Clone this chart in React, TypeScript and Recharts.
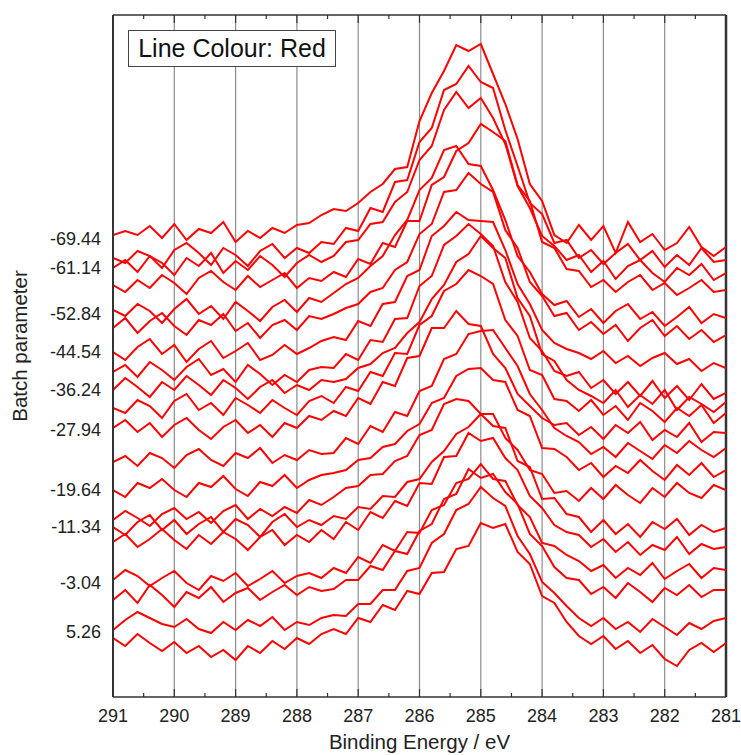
import React from 'react';
import { LineChart, Line, XAxis, YAxis, ReferenceLine } from 'recharts';

// binding energy grid (eV), high to low
const energies = [
  291.0, 290.8, 290.6, 290.4, 290.2, 290.0, 289.8, 289.6, 289.4, 289.2,
  289.0, 288.8, 288.6, 288.4, 288.2, 288.0, 287.8, 287.6, 287.4, 287.2,
  287.0, 286.8, 286.6, 286.4, 286.2, 286.0, 285.8, 285.6, 285.4, 285.2,
  285.0, 284.8, 284.6, 284.4, 284.2, 284.0, 283.8, 283.6, 283.4, 283.2,
  283.0, 282.8, 282.6, 282.4, 282.2, 282.0, 281.8, 281.6, 281.4, 281.2,
  281.0,
];

// spectra, each relative to its own waterfall offset
const s01 = [4, 8, 4, 13, 1, 15, -1, 10, 6, 17, -3, 8, 1, 11, 6, 14, 16, 24, 30, 28, 36, 47, 55, 70, 72, 118, 146, 168, 194, 188, 195, 165, 135, 100, 55, 38, 4, -4, 14, -1, 13, -14, 17, -3, 5, -11, -4, 12, -8, -17, -8];
const s02 = [0, -5, 7, 2, -10, 8, 15, 5, -7, 10, 3, -8, 7, 14, 0, 10, 5, 16, 14, 30, 27, 50, 46, 76, 78, 116, 130, 168, 174, 192, 176, 170, 128, 92, 55, 44, 15, 18, 0, 8, -6, 5, 14, -2, 7, -9, 3, -7, 10, -4, -2];
const s03 = [0, 8, -4, 12, 5, -7, 10, 2, 15, -5, 7, -2, 12, 3, -9, 5, 13, 6, 12, 26, 28, 44, 46, 66, 76, 108, 122, 158, 176, 160, 170, 150, 124, 82, 60, 32, 22, 8, 13, -4, 7, -11, 2, 8, -5, -14, 0, -7, 4, -12, -5];
const s04 = [0, -7, 5, -3, 10, 2, -9, 7, 14, 3, -5, 9, -2, 5, 12, -3, 7, 4, 13, 8, 26, 21, 42, 38, 64, 64, 100, 108, 134, 142, 161, 153, 144, 100, 84, 43, 37, 16, 14, -2, 5, -7, 3, 10, -5, 2, -10, -3, 5, -7, -5];
const s05 = [4, -2, 10, 3, -9, 5, 15, 0, 8, -5, 12, 3, -7, 7, 14, 2, 16, 12, 21, 30, 36, 48, 58, 79, 94, 124, 136, 164, 168, 150, 148, 124, 94, 58, 42, 20, 9, 13, -3, 5, -9, 3, 10, -5, 2, -12, -3, 7, -9, 0, -4];
const s06 = [0, 10, -5, 7, 15, 2, -7, 8, 3, 14, -3, 5, -10, 3, 8, -2, 12, 9, 14, 20, 24, 36, 40, 58, 66, 94, 104, 136, 138, 155, 144, 136, 98, 80, 46, 32, 12, 15, -2, 6, -6, 3, -13, 0, 8, -8, 2, -11, -2, -14, -7];
const s07 = [0, -8, 5, 13, -2, 7, -10, 3, 11, -6, 1, 9, -8, -3, 7, -2, 4, 11, 15, 12, 31, 26, 48, 50, 76, 82, 116, 126, 140, 132, 131, 130, 102, 68, 48, 22, 9, 3, -1, -7, 1, -11, -4, -14, -6, -1, -12, -7, -19, -11, -16];
const s08 = [0, 7, -5, 10, 2, -8, 5, 13, -3, 3, -10, 7, -2, -13, -3, -10, 2, 5, 4, 18, 12, 32, 30, 53, 54, 86, 96, 127, 136, 148, 138, 126, 90, 70, 34, 21, 1, -4, 0, -16, -8, -22, -10, -24, -9, -26, -14, -28, -12, -27, -21];
const s09 = [0, 12, 3, -7, 8, 0, 14, 5, -5, 10, 2, -9, 3, 10, -3, 5, 0, 10, 8, 11, 22, 26, 37, 42, 57, 68, 91, 105, 128, 136, 154, 142, 132, 92, 74, 36, 29, 10, 0, -6, -13, 0, -17, -5, -14, 0, -20, -7, -14, -22, -12];
const s10 = [0, -5, 8, 2, -10, 7, 14, -2, 5, -7, 10, 3, -5, 8, 0, -7, 7, 12, 5, 21, 17, 36, 32, 55, 54, 83, 92, 117, 124, 138, 132, 124, 88, 72, 38, 33, 9, 7, -3, 8, -7, 2, -12, 5, -3, -14, 0, -8, 3, -15, -5];
const s11 = [2, 10, -2, 7, -7, 5, 12, 0, -9, 3, 10, -3, 5, -7, 7, 2, 14, 10, 19, 14, 32, 26, 48, 44, 72, 74, 102, 102, 119, 106, 104, 76, 62, 36, 24, 12, 5, 7, -5, 3, -9, 5, -3, 8, -10, 0, -7, 7, -12, -2, -3];
const s12 = [0, 6, -4, 9, 4, -6, 7, 13, 2, -4, 9, 4, 14, -1, 7, 2, 12, 8, 9, 24, 18, 36, 30, 50, 46, 71, 76, 103, 108, 128, 131, 132, 114, 96, 68, 52, 34, 26, 20, 8, 15, 5, 19, 11, 3, 17, 9, 21, 12, 5, 14];
const s13 = [0, -7, 7, 2, 11, 0, -7, 7, 3, 14, 1, -6, 8, 4, 15, 2, 10, 15, 17, 20, 30, 32, 43, 46, 59, 66, 87, 92, 114, 121, 122, 110, 108, 80, 74, 42, 41, 33, 20, 27, 13, 24, 17, 30, 19, 10, 25, 15, 27, 13, 20];
const s14 = [0, 9, 2, -6, 6, 12, 1, 8, -3, 9, 15, 1, 11, 4, 13, 7, 20, 15, 23, 32, 34, 45, 46, 59, 64, 85, 90, 116, 121, 119, 106, 106, 82, 70, 50, 46, 27, 29, 19, 32, 21, 35, 25, 17, 32, 23, 37, 27, 22, 35, 30];
const s15 = [0, -8, 5, 12, -3, 7, -7, 3, 10, -5, 8, 2, -10, 5, 13, 0, 7, 2, 11, 8, 20, 18, 31, 30, 45, 48, 65, 76, 93, 100, 113, 101, 99, 66, 60, 28, 29, 13, 10, -5, 7, -7, 3, -10, 5, -2, 8, -8, 2, -5, -1];
const s16 = [0, 8, -5, 3, 13, 2, -7, 7, -2, 10, 3, -8, 5, 12, -3, 7, 0, 12, 3, 20, 12, 30, 24, 41, 36, 59, 58, 85, 86, 109, 101, 104, 84, 72, 46, 34, 17, 10, 7, -5, 3, -10, 0, -13, -3, -8, 5, -12, -2, -7, -5];
const s17 = [3, 13, 7, -3, 5, 12, 0, -7, 7, 2, 10, -3, 4, 12, 0, 7, 10, 5, 15, 10, 26, 20, 38, 32, 51, 50, 73, 78, 100, 104, 119, 104, 102, 78, 66, 40, 37, 28, 22, 12, 18, 5, 15, 8, 20, 4, 12, 19, 5, 15, 13];
const s18 = [0, 10, -3, 15, 5, -7, 8, 2, 13, -2, 7, 12, 0, 8, 15, 5, 13, 9, 11, 20, 20, 34, 30, 49, 46, 69, 76, 101, 106, 131, 122, 126, 108, 96, 66, 54, 33, 22, 20, 6, 13, 2, 17, 8, -2, 12, 5, 15, 3, 10, 10];
const s19 = [2, 12, 20, 14, 8, 5, 13, 3, -1, 10, 2, 12, 6, 15, 2, 10, 7, 14, 17, 16, 28, 28, 42, 42, 61, 64, 89, 98, 122, 128, 145, 134, 126, 96, 78, 50, 39, 26, 14, 6, 14, 3, 10, 0, 13, 5, -3, 9, 3, 11, 14];
const s20 = [0, -8, 4, -5, -13, -4, -15, -8, -19, -12, -22, -8, -15, -3, -11, 0, -6, 4, 9, 4, 20, 16, 33, 28, 47, 44, 65, 66, 89, 92, 115, 110, 114, 86, 74, 42, 35, 16, 2, -6, 2, -11, -3, -15, -7, -21, -28, -12, -5, -14, -5];

const spectra = [s01, s02, s03, s04, s05, s06, s07, s08, s09, s10, s11, s12, s13, s14, s15, s16, s17, s18, s19, s20];

// waterfall offset of each spectrum (counts)
const offsets = [458, 439, 429, 412, 383, 369, 345, 325, 307, 289, 267, 235, 207, 177, 170, 155, 114, 97, 65, 59];

// batch parameter of every second spectrum, top to bottom
const batchLabels = ['-69.44', '-61.14', '-52.84', '-44.54', '-36.24', '-27.94', '-19.64', '-11.34', '-3.04', '5.26'];

const majorTicks = [291, 290, 289, 288, 287, 286, 285, 284, 283, 282, 281];
const minorTicks = [290.5, 289.5, 288.5, 287.5, 286.5, 285.5, 284.5, 283.5, 282.5, 281.5];

const Y_MAX = 682;
const FONT = '"Liberation Sans", Arial, sans-serif';
const TICK_GAP = 12;
const FRAME = '#333';

const allTicks = [...majorTicks, ...minorTicks].sort((a, b) => a - b);
const labelTicks = offsets.filter((_, i) => i % 2 === 0);

const rows = energies.map((e, k) => {
  const row: Record<string, number> = { energy: e };
  spectra.forEach((s, i) => {
    row[`s${i}`] = offsets[i] + s[k];
  });
  return row;
});

const BottomTick = (props: any) => {
  const { x, y, payload } = props;
  const v = payload.value;
  const major = Number.isInteger(v);
  const y0 = y - TICK_GAP;
  return (
    <g>
      <line x1={x} x2={x} y1={y0} y2={y0 - (major ? 8 : 4)} stroke={FRAME} strokeWidth={1.2} />
      {major && (
        <text x={x} y={y} dy="0.71em" textAnchor="middle" fontSize={18} fill="#222" fontFamily={FONT}>
          {v}
        </text>
      )}
    </g>
  );
};

const YTitle = (props: any) => {
  const vb = props.viewBox || { x: 0, y: 15, width: 113, height: 682 };
  const x = vb.x + 27;
  const y = vb.y + vb.height / 2 - 10;
  return (
    <text x={x} y={y} transform={`rotate(-90 ${x} ${y})`} textAnchor="middle" fontSize={20.5} fill="#222" fontFamily={FONT}>
      Batch parameter
    </text>
  );
};

export default function App() {
  return (
    <div style={{ position: 'relative', width: 741, height: 755, fontFamily: FONT }}>
      <style>{'body{margin:0;overflow:hidden}'}</style>
      <LineChart width={741} height={755} data={rows} margin={{ top: 15, right: 15, bottom: 28, left: 0 }}>
        <XAxis
          dataKey="energy"
          type="number"
          domain={[281, 291]}
          reversed
          allowDataOverflow
          ticks={allTicks}
          interval={0}
          height={30}
          tickLine={false}
          tickSize={0}
          tickMargin={TICK_GAP}
          tick={(p: any) => <BottomTick {...p} />}
          axisLine={{ stroke: FRAME, strokeWidth: 1.5 }}
          label={{ value: 'Binding Energy / eV', position: 'bottom', offset: 7, fontSize: 20.5, fill: '#222', fontFamily: FONT }}
        />
        <YAxis
          type="number"
          domain={[0, Y_MAX]}
          allowDataOverflow
          ticks={labelTicks}
          interval={0}
          width={113}
          tickLine={false}
          tickSize={0}
          tickMargin={12}
          tickFormatter={(v: number) => batchLabels[labelTicks.indexOf(v)] ?? ''}
          tick={{ fontSize: 18, fill: '#222', fontFamily: FONT }}
          axisLine={{ stroke: FRAME, strokeWidth: 2 }}
          label={{ content: (p: any) => <YTitle {...p} /> }}
        />
        {majorTicks.slice(1, -1).map((v) => (
          <ReferenceLine key={`g${v}`} x={v} stroke="#8c8c8c" strokeWidth={1.2} />
        ))}
        {/* frame top and right */}
        <ReferenceLine y={Y_MAX} stroke={FRAME} strokeWidth={1.5} />
        <ReferenceLine x={281} stroke={FRAME} strokeWidth={2.5} />
        {/* inward ticks along the top edge */}
        {allTicks.map((v) => (
          <ReferenceLine
            key={`t${v}`}
            segment={[
              { x: v, y: Y_MAX },
              { x: v, y: Y_MAX - (Number.isInteger(v) ? 8 : 4) },
            ]}
            stroke={FRAME}
            strokeWidth={1.2}
          />
        ))}
        {spectra.map((_, i) => (
          <Line
            key={i}
            dataKey={`s${i}`}
            type="linear"
            stroke="#ff0000"
            strokeWidth={2}
            dot={false}
            activeDot={false}
            isAnimationActive={false}
          />
        ))}
      </LineChart>
      <div
        style={{
          position: 'absolute',
          left: 128,
          top: 30,
          width: 208,
          height: 37,
          boxSizing: 'border-box',
          border: '1px solid #444',
          background: '#fff',
          fontSize: 25,
          lineHeight: '35px',
          textAlign: 'center',
          color: '#111',
        }}
      >
        Line Colour: Red
      </div>
    </div>
  );
}
